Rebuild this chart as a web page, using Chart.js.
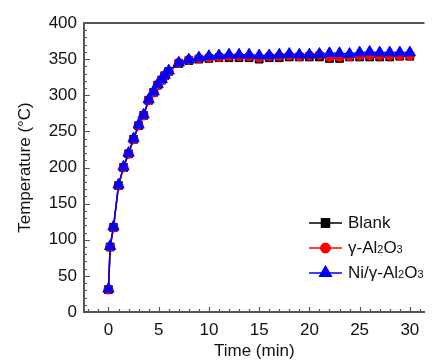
<!DOCTYPE html>
<html lang="en">
<head>
    <meta charset="UTF-8">
    <title>Temperature</title>
    <script src="https://cdn.jsdelivr.net/npm/chart.js"></script>
    <style>
        body { margin: 0; background: #fff; overflow: hidden; }
    </style>
</head>
<body>
    <canvas id="tempChart" width="432" height="362"></canvas>
<script>
    // data
    var tempo = [0, 0.17, 0.5, 1, 1.5, 2, 2.5, 3, 3.5, 4, 4.5, 4.9, 5.3, 5.6, 6,
        7, 8, 9, 10, 11, 12, 13, 14, 15, 16, 17, 18, 19, 20, 21, 22, 23, 24, 25, 26, 27, 28, 29, 30];
    var blank = [31, 90, 117, 175, 200, 219, 239, 258, 272, 293, 304, 314, 321, 327, 333,
        344, 348, 350, 351, 352, 352, 352, 352, 350, 352, 352, 353, 353, 353, 353, 351, 351, 353, 353, 353, 353, 353, 354, 354];
    var gamma = [31, 90, 117, 175, 200, 219, 239, 258, 272, 293, 304, 314, 321, 327, 333,
        345, 349, 351, 352, 353, 354, 354, 354, 352, 354, 354, 355, 354, 355, 356, 353, 353, 354, 355, 355, 355, 355, 355, 355];
    var niGamma = [32, 91, 118, 176, 201, 220, 240, 259, 273, 294, 305, 315, 322, 328, 334,
        345, 349, 352, 354, 355, 356, 356, 356, 355, 355, 356, 357, 356, 356, 357, 358, 358, 357, 359, 360, 359, 359, 359, 359];
    var xTicks = [0, 5, 10, 15, 20, 25, 30];
    var yTicks = [0, 50, 100, 150, 200, 250, 300, 350, 400];
    var nomes = ["Blank", "γ-Al_2O_3", "Ni/γ-Al_2O_3"];
    var cores = ["#000000", "#ff0000", "#0000ff"];
    var marcadores = ["rect", "circle", "triangle"];
    var raios = [5.5, 4.5, 6.5];

    var fonte = "'Liberation Sans', Arial, sans-serif";
    var eixoCor = "#555555";

    function serie(ys) {
        return ys.map(function (y, i) { return { x: tempo[i], y: y }; });
    }

    // ticks pointing inside the plot, like the original
    var tracosInternos = {
        id: "tracosInternos",
        beforeDatasetsDraw: function (chart) {
            var ctx = chart.ctx, a = chart.chartArea;
            var sx = chart.scales.x, sy = chart.scales.y;
            ctx.save();
            ctx.strokeStyle = eixoCor;
            ctx.lineWidth = 1.2;
            ctx.beginPath();
            for (var v = -2; v <= 31; v++) {
                var px = Math.round(sx.getPixelForValue(v)) + 0.5;
                var len = v % 5 === 0 ? 5 : 3;
                ctx.moveTo(px, a.bottom);
                ctx.lineTo(px, a.bottom - len);
            }
            for (var t = 0; t <= 400; t += 10) {
                var py = Math.round(sy.getPixelForValue(t)) + 0.5;
                var l2 = t % 50 === 0 ? 6 : 3;
                ctx.moveTo(a.left, py);
                ctx.lineTo(a.left + l2, py);
            }
            ctx.stroke();
            // top frame line
            ctx.lineWidth = 2;
            ctx.beginPath();
            ctx.moveTo(a.left, a.top);
            ctx.lineTo(a.right, a.top);
            ctx.stroke();
            ctx.restore();
        }
    };

    function textoSub(ctx, texto, x, y) {
        var partes = texto.split("_");
        ctx.font = "17px " + fonte;
        ctx.fillText(partes[0], x, y);
        x += ctx.measureText(partes[0]).width;
        for (var i = 1; i < partes.length; i++) {
            var sub = partes[i].charAt(0);
            var resto = partes[i].slice(1);
            ctx.font = "11px " + fonte;
            ctx.fillText(sub, x, y + 2);
            x += ctx.measureText(sub).width;
            ctx.font = "17px " + fonte;
            ctx.fillText(resto, x, y);
            x += ctx.measureText(resto).width;
        }
    }

    var legenda = {
        id: "legenda",
        afterDraw: function (chart) {
            var ctx = chart.ctx;
            ctx.save();
            for (var i = 0; i < nomes.length; i++) {
                var y = 223 + i * 25;
                ctx.strokeStyle = cores[i];
                ctx.lineWidth = 1.5;
                ctx.beginPath();
                ctx.moveTo(309, y);
                ctx.lineTo(342, y);
                ctx.stroke();
                Chart.helpers.drawPoint(ctx, {
                    pointStyle: marcadores[i], radius: raios[i], borderWidth: 1
                }, 325.5, y);
                ctx.fillStyle = cores[i];
                ctx.strokeStyle = cores[i];
                Chart.helpers.drawPoint(ctx, {
                    pointStyle: marcadores[i], radius: raios[i], borderWidth: 1
                }, 325.5, y);
                ctx.fill();
                ctx.fillStyle = "#111";
                ctx.textBaseline = "middle";
                textoSub(ctx, nomes[i], 348, y);
            }
            ctx.restore();
        }
    };

    var datasets = nomes.map(function (n, i) {
        var dados = [blank, gamma, niGamma][i];
        return {
            label: n,
            data: serie(dados),
            borderColor: cores[i],
            backgroundColor: cores[i],
            borderWidth: 1.5,
            pointStyle: marcadores[i],
            pointRadius: raios[i],
            pointBorderWidth: 1,
            order: 2 - i,
            tension: 0
        };
    });

    const config = {
        type: "line",
        data: { datasets: datasets },
        options: {
            responsive: false,
            animation: false,
            layout: { padding: { top: 23, left: 0, right: 0, bottom: 0 } },
            plugins: { legend: { display: false }, tooltip: { enabled: false } },
            scales: {
                x: {
                    type: "linear",
                    min: -2.435,
                    max: 31.46,
                    afterBuildTicks: function (s) { s.ticks = xTicks.map(function (v) { return { value: v }; }); },
                    afterFit: function (s) { s.height = 50; },
                    grid: { display: false, drawTicks: false },
                    border: { display: true, color: eixoCor, width: 2 },
                    ticks: { padding: 8, color: "#111", font: { family: fonte, size: 17 }, maxRotation: 0 },
                    title: { display: true, text: "Time (min)", color: "#111", font: { family: fonte, size: 17 }, padding: { top: 0, bottom: 0 } }
                },
                y: {
                    min: 0,
                    max: 400,
                    afterBuildTicks: function (s) { s.ticks = yTicks.map(function (v) { return { value: v }; }); },
                    afterFit: function (s) { s.width = 84; },
                    grid: { display: false, drawTicks: false },
                    border: { display: true, color: eixoCor, width: 2 },
                    ticks: { padding: 7, color: "#111", font: { family: fonte, size: 17 } },
                    title: { display: true, text: "Temperature (°C)", color: "#111", font: { family: fonte, size: 17 }, padding: { top: 15, bottom: 0 } }
                }
            }
        },
        plugins: [tracosInternos, legenda]
    };

    var grafico = new Chart(document.getElementById("tempChart"), config);
</script>
</body>
</html>
